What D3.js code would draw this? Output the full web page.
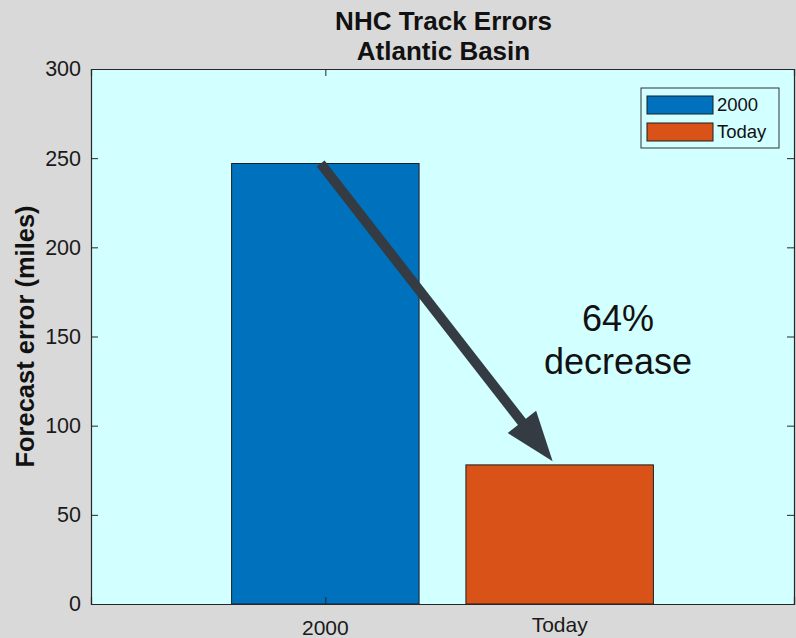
<!DOCTYPE html>
<html>
<head>
<meta charset="utf-8">
<script src="https://cdn.jsdelivr.net/npm/d3@7"></script>
<style>
  html, body { margin: 0; padding: 0; background: #d9d9d9; }
  svg { display: block; font-family: "Liberation Sans", Arial, Helvetica, sans-serif; }
</style>
</head>
<body>
<svg id="chart" width="796" height="638"></svg>
<script>
// ---- data ----
const categories = ["2000", "Today"];
const values = [247, 78];
const barColors = ["#0072BD", "#D95319"];
const yTicks = [0, 50, 100, 150, 200, 250, 300];
const xTickCats = ["2000"];
const titleLines = ["NHC Track Errors", "Atlantic Basin"];
const yLabel = "Forecast error (miles)";
const annotationLines = ["64%", "decrease"];
// arrow in data coordinates: [category position, value]
const arrowFrom = [0.98, 247];
const arrowTo = [1.97, 80];

(function () {
// ---- layout ----
const W = 796, H = 638;
const pL = 91, pR = 794, pT = 69, pB = 604;
const axisColor = "#262626";
const plotBg = "#d2ffff";

const svg = d3.select("#chart");
svg.append("rect").attr("width", W).attr("height", H).attr("fill", "#d9d9d9");

const x = d3.scaleLinear().domain([0, 3]).range([pL, pR]);
const y = d3.scaleLinear().domain([0, 300]).range([pB, pT]);
const pos = c => categories.indexOf(c) + 1;
const barW = 0.8;

// plot background
svg.append("rect")
  .attr("x", pL).attr("y", pT)
  .attr("width", pR - pL).attr("height", pB - pT)
  .attr("fill", plotBg);

// bars
svg.selectAll("rect.bar").data(categories).enter().append("rect")
  .attr("class", "bar")
  .attr("x", c => x(pos(c) - barW / 2))
  .attr("width", c => x(pos(c) + barW / 2) - x(pos(c) - barW / 2))
  .attr("y", (c, i) => y(values[i]))
  .attr("height", (c, i) => y(0) - y(values[i]))
  .attr("fill", (c, i) => barColors[i])
  .attr("stroke", "#1f1f1f").attr("stroke-width", 1);

// axes (inward ticks, box)
const tickLen = 7;
const yAxisL = d3.axisLeft(y).tickValues(yTicks).tickSize(-tickLen).tickPadding(10).tickFormat(d3.format("d"));
const gL = svg.append("g").attr("transform", `translate(${pL},0)`).call(yAxisL);
const yAxisR = d3.axisRight(y).tickValues(yTicks).tickSize(-tickLen).tickFormat("");
const gR = svg.append("g").attr("transform", `translate(${pR},0)`).call(yAxisR);
const xAxisB = d3.axisBottom(x).tickValues(xTickCats.map(pos)).tickSize(-tickLen).tickFormat("");
const gB = svg.append("g").attr("transform", `translate(0,${pB})`).call(xAxisB);
const xAxisT = d3.axisTop(x).tickValues(xTickCats.map(pos)).tickSize(-tickLen).tickFormat("");
const gT = svg.append("g").attr("transform", `translate(0,${pT})`).call(xAxisT);

[gL, gR, gB, gT].forEach(g => {
  g.selectAll("path.domain").attr("stroke", axisColor).attr("stroke-width", 1.2);
  g.selectAll(".tick line").attr("stroke", axisColor).attr("stroke-width", 1);
});
gL.selectAll(".tick text")
  .attr("font-size", 21.5).attr("fill", "#1a1a1a")
  .attr("font-family", "Liberation Sans, Arial, sans-serif");

// category labels
const catLabelY = { "2000": 635, "Today": 632 };
svg.selectAll("text.cat").data(categories).enter().append("text")
  .attr("class", "cat")
  .attr("x", c => x(pos(c)))
  .attr("y", c => catLabelY[c])
  .attr("text-anchor", "middle")
  .attr("font-size", 21).attr("fill", "#1a1a1a")
  .text(c => c);

// title
svg.selectAll("text.title").data(titleLines).enter().append("text")
  .attr("class", "title")
  .attr("x", (pL + pR) / 2 + 1)
  .attr("y", (d, i) => 30 + i * 30)
  .attr("text-anchor", "middle")
  .attr("font-size", 26).attr("font-weight", "bold").attr("fill", "#111")
  .text(d => d);

// y label
svg.append("text")
  .attr("transform", `translate(34,${(pT + pB) / 2}) rotate(-90)`)
  .attr("text-anchor", "middle")
  .attr("font-size", 25.5).attr("font-weight", "bold").attr("fill", "#111")
  .text(yLabel);

// arrow
const ax0 = x(arrowFrom[0]), ay0 = y(arrowFrom[1]);
const ax1 = x(arrowTo[0]), ay1 = y(arrowTo[1]);
const dx = ax1 - ax0, dy = ay1 - ay0, len = Math.hypot(dx, dy);
const ux = dx / len, uy = dy / len;
const headLen = 50, headHalf = 18;
const bx = ax1 - ux * headLen, by = ay1 - uy * headLen;
const arrowColor = "#343b42";
svg.append("line")
  .attr("x1", ax0).attr("y1", ay0)
  .attr("x2", bx + ux * 2).attr("y2", by + uy * 2)
  .attr("stroke", arrowColor).attr("stroke-width", 10);
svg.append("polygon")
  .attr("points", [
    [ax1, ay1],
    [bx - uy * headHalf, by + ux * headHalf],
    [bx + uy * headHalf, by - ux * headHalf]
  ].map(p => p.join(",")).join(" "))
  .attr("fill", arrowColor);

// annotation
svg.selectAll("text.annot").data(annotationLines).enter().append("text")
  .attr("class", "annot")
  .attr("x", 618)
  .attr("y", (d, i) => 331 + i * 43)
  .attr("text-anchor", "middle")
  .attr("font-size", 36).attr("fill", "#111")
  .text(d => d);

// legend
const lg = svg.append("g");
lg.append("rect")
  .attr("x", 641).attr("y", 88).attr("width", 138).attr("height", 60)
  .attr("fill", plotBg).attr("stroke", "#333").attr("stroke-width", 1);
categories.forEach((c, i) => {
  const yy = 96 + i * 27;
  lg.append("rect")
    .attr("x", 647).attr("y", yy).attr("width", 66).attr("height", 18)
    .attr("fill", barColors[i]).attr("stroke", "#1f1f1f").attr("stroke-width", 1);
  lg.append("text")
    .attr("x", 717).attr("y", yy + 15)
    .attr("font-size", 18.5).attr("fill", "#111")
    .text(c);
});
})();
</script>
</body>
</html>
